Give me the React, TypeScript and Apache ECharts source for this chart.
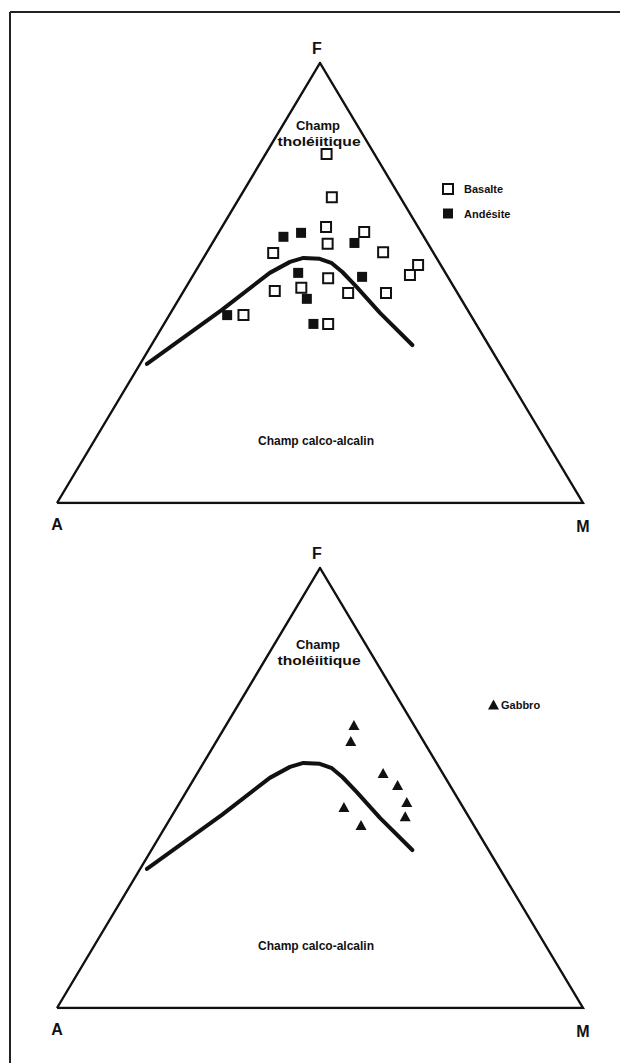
import React, { useEffect, useRef } from "react";
import * as echarts from "echarts";

// Compositions as [A, F, M] percentages (A = alkalis, F = FeO total, M = MgO)
const basalte: [number, number, number][] = [
  [9.1, 79.3, 11.6],
  [13.0, 69.5, 17.5],
  [17.5, 62.7, 19.8],
  [10.8, 61.6, 27.6],
  [30.5, 56.8, 12.7],
  [19.1, 58.9, 22.0],
  [9.5, 57.0, 33.5],
  [4.3, 54.1, 41.6],
  [7.0, 51.8, 41.2],
  [22.9, 51.1, 26.0],
  [34.5, 48.2, 17.3],
  [29.1, 48.9, 22.0],
  [20.8, 47.7, 31.5],
  [13.6, 47.7, 38.7],
  [43.2, 42.7, 14.1],
  [28.1, 40.7, 31.2],
];

const andesite: [number, number, number][] = [
  [26.7, 60.5, 12.8],
  [22.9, 61.4, 15.7],
  [13.9, 59.1, 27.0],
  [28.0, 52.3, 19.7],
  [16.3, 51.4, 32.3],
  [29.3, 46.4, 24.3],
  [30.9, 40.7, 28.4],
  [46.3, 42.7, 11.0],
];

const gabbro: [number, number, number][] = [
  [11.4, 64.3, 24.3],
  [13.8, 60.7, 25.5],
  [11.3, 53.4, 35.3],
  [9.9, 50.7, 39.4],
  [10.1, 46.8, 43.1],
  [12.0, 43.6, 44.4],
  [22.6, 45.7, 31.7],
  [21.4, 41.6, 37.0],
];

// Tholeiitic / calc-alkaline dividing line
const boundary: [number, number, number][] = [
  [67.1, 31.6, 1.3],
  [46.7, 43.9, 9.4],
  [33.4, 52.3, 14.3],
  [28.3, 54.8, 16.9],
  [25.3, 55.7, 19.0],
  [22.3, 55.5, 22.2],
  [20.5, 54.5, 25.0],
  [19.5, 52.5, 28.0],
  [18.5, 49.1, 32.4],
  [17.0, 43.2, 39.8],
  [14.5, 35.9, 49.6],
];

// Triangle corners in A, F, M order
const corners: [number, number, number][] = [
  [100, 0, 0],
  [0, 100, 0],
  [0, 0, 100],
  [100, 0, 0],
];

const vertexLabels = ["F", "A", "M"];
const fieldUpper = ["Champ", "tholéiitique"];
const fieldLower = "Champ calco-alcalin";

// ternary -> cartesian (x across the base A..M, y towards F)
const toXY = ([a, f, m]: [number, number, number]) => {
  const s = a + f + m;
  return [((m + f / 2) / s) * 100, (f / s) * 100];
};

const FONT = '"Liberation Sans", Arial, sans-serif';
const INK = "#111";

const plots = [
  { top: 63, champTop: 125, champGap: 16, calco: 441 },
  { top: 568, champTop: 644, champGap: 16, calco: 946 },
];
const PLOT_LEFT = 57;
const PLOT_W = 526;
const PLOT_H = 440;

export default function App() {
  const ref = useRef<HTMLDivElement>(null);

  useEffect(() => {
    if (!ref.current) return;
    const chart = echarts.init(ref.current, undefined, { renderer: "svg" });

    const grids = plots.map((p) => ({
      left: PLOT_LEFT,
      top: p.top,
      width: PLOT_W,
      height: PLOT_H,
    }));
    const axisBase = { type: "value" as const, min: 0, max: 100, show: false };

    const outline = (gi: number) => ({
      type: "line",
      xAxisIndex: gi,
      yAxisIndex: gi,
      data: corners.map(toXY),
      symbol: "none",
      silent: true,
      lineStyle: { color: INK, width: 2.4, join: "miter" },
      z: 1,
    });
    const divider = (gi: number) => ({
      type: "line",
      xAxisIndex: gi,
      yAxisIndex: gi,
      data: boundary.map(toXY),
      symbol: "none",
      silent: true,
      lineStyle: { color: INK, width: 4, cap: "round", join: "round" },
      z: 2,
    });

    const label = (text: string, x: number, y: number, size: number, scaleX = 1) => ({
      type: "text",
      x,
      y,
      scaleX,
      style: {
        text,
        font: `bold ${size}px ${FONT}`,
        fill: INK,
        textAlign: "center",
        textVerticalAlign: "middle",
      },
    });

    const texts: any[] = [];
    plots.forEach((p) => {
      const apexY = p.top;
      const baseY = p.top + PLOT_H;
      texts.push(
        label(vertexLabels[0], PLOT_LEFT + PLOT_W / 2 - 3, apexY - 15, 16),
        label(vertexLabels[1], PLOT_LEFT, baseY + 21, 16),
        label(vertexLabels[2], PLOT_LEFT + PLOT_W, baseY + 23, 16),
        label(fieldUpper[0], 318, p.champTop, 13),
        label(fieldUpper[1], 319, p.champTop + p.champGap, 13, 1.2),
        label(fieldLower, 316, p.calco, 12)
      );
    });

    chart.setOption({
      animation: false,
      backgroundColor: "#fff",
      grid: grids,
      xAxis: [{ ...axisBase, gridIndex: 0 }, { ...axisBase, gridIndex: 1 }],
      yAxis: [{ ...axisBase, gridIndex: 0 }, { ...axisBase, gridIndex: 1 }],
      legend: [
        {
          data: ["Basalte", "Andésite"],
          orient: "vertical",
          left: 437,
          top: 178,
          itemWidth: 10,
          itemHeight: 10,
          itemGap: 13,
          icon: "rect",
          selectedMode: false,
          textStyle: { fontFamily: FONT, fontWeight: "bold", fontSize: 11, color: INK, padding: [0, 0, 0, 6] },
        },
        {
          data: ["Gabbro"],
          orient: "vertical",
          left: 483,
          top: 694,
          itemWidth: 11,
          itemHeight: 10,
          icon: "triangle",
          selectedMode: false,
          textStyle: { fontFamily: FONT, fontWeight: "bold", fontSize: 11, color: INK, padding: [0, 0, 0, -3] },
        },
      ],
      series: [
        outline(0),
        outline(1),
        divider(0),
        divider(1),
        {
          name: "Basalte",
          type: "scatter",
          xAxisIndex: 0,
          yAxisIndex: 0,
          data: basalte.map(toXY),
          symbol: "rect",
          symbolSize: 10,
          itemStyle: { color: "#fff", borderColor: INK, borderWidth: 2, opacity: 1 },
          z: 3,
        },
        {
          name: "Andésite",
          type: "scatter",
          xAxisIndex: 0,
          yAxisIndex: 0,
          data: andesite.map(toXY),
          symbol: "rect",
          symbolSize: 10,
          itemStyle: { color: INK, opacity: 1 },
          z: 3,
        },
        {
          name: "Gabbro",
          type: "scatter",
          xAxisIndex: 1,
          yAxisIndex: 1,
          data: gabbro.map(toXY),
          symbol: "triangle",
          symbolSize: [11, 10],
          itemStyle: { color: INK, opacity: 1 },
          z: 3,
        },
      ],
      graphic: [
        { type: "line", shape: { x1: 10, y1: 12, x2: 620, y2: 12 }, style: { stroke: "#222", lineWidth: 2 } },
        { type: "line", shape: { x1: 10, y1: 12, x2: 10, y2: 1063 }, style: { stroke: "#222", lineWidth: 2 } },
        ...texts,
      ],
    });

    return () => chart.dispose();
  }, []);

  return (
    <div
      ref={ref}
      style={{ position: "absolute", left: 0, top: 0, width: 620, height: 1063, background: "#fff" }}
    />
  );
}
